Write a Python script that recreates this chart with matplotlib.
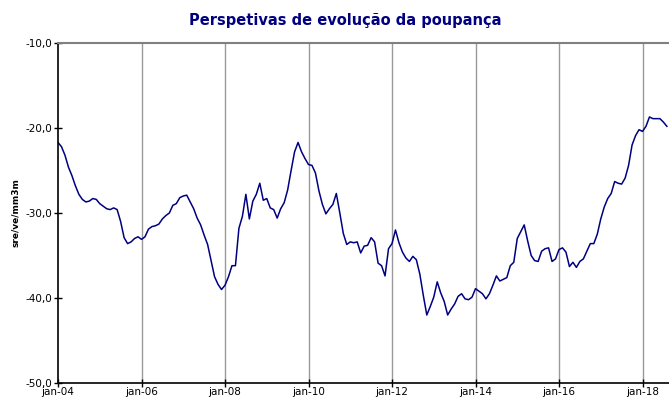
import numpy as np
import matplotlib
matplotlib.use("Agg")
import matplotlib.pyplot as plt

# monthly values, jan-04 .. aug-18
poupanca = [
    -21.7, -22.2, -23.2, -24.6, -25.6, -26.8, -27.8, -28.4, -28.7, -28.6, -28.3, -28.4,
    -28.9, -29.2, -29.5, -29.6, -29.4, -29.6, -31.0, -32.9, -33.6, -33.4, -33.0, -32.8,
    -33.1, -32.8, -31.9, -31.6, -31.5, -31.3, -30.7, -30.3, -30.0, -29.1, -28.9, -28.2,
    -28.0, -27.9, -28.7, -29.5, -30.6, -31.4, -32.6, -33.7, -35.6, -37.5, -38.4, -39.0,
    -38.5, -37.5, -36.2, -36.2, -31.8, -30.4, -27.8, -30.7, -28.6, -27.8, -26.5, -28.5,
    -28.3, -29.4, -29.6, -30.6, -29.5, -28.8, -27.3, -25.0, -22.8, -21.7, -22.8, -23.6,
    -24.3, -24.4, -25.3, -27.4, -29.0, -30.1, -29.5, -29.0, -27.7, -30.0, -32.4, -33.7,
    -33.4, -33.5, -33.4, -34.7, -33.9, -33.8, -32.9, -33.4, -35.9, -36.2, -37.4, -34.2,
    -33.6, -32.0, -33.5, -34.6, -35.3, -35.7, -35.1, -35.5, -37.2, -39.7, -42.0, -41.0,
    -39.9, -38.1, -39.4, -40.4, -42.0, -41.3, -40.7, -39.8, -39.5, -40.1, -40.2, -39.9,
    -38.9, -39.2, -39.5, -40.1, -39.5, -38.5, -37.4, -38.0, -37.8, -37.6, -36.2, -35.8,
    -33.0, -32.2, -31.4, -33.3, -35.0, -35.6, -35.7, -34.5, -34.2, -34.1, -35.7, -35.4,
    -34.3, -34.1, -34.6, -36.3, -35.8, -36.4, -35.7, -35.4, -34.5, -33.6, -33.6, -32.5,
    -30.7, -29.3, -28.3, -27.7, -26.3, -26.5, -26.6, -25.9, -24.4, -22.0, -20.9, -20.2,
    -20.4, -19.8, -18.7, -18.9, -18.9, -18.9, -19.3, -19.8,
]
tick_labels = ["jan-04", "jan-06", "jan-08", "jan-10", "jan-12", "jan-14", "jan-16", "jan-18"]
y_ticks = [-50, -40, -30, -20, -10]

navy = "#000080"
months = np.arange(len(poupanca))
tick_pos = np.arange(len(tick_labels)) * 24

fig = plt.figure(figsize=(6.69, 4.03), dpi=100)
ax = fig.add_axes([58 / 669, 20 / 403, 1 - 58 / 669 + 0.002, 340 / 403])

ax.plot(months, poupanca, color=navy, lw=1.1)

ax.set_xlim(0, 176)
ax.set_ylim(-50, -10)
ax.set_xticks(tick_pos)
ax.set_xticklabels(tick_labels, fontsize=7.5)
ax.set_yticks(y_ticks)
ax.set_yticklabels([f"{v:.1f}".replace(".", ",") for v in y_ticks], fontsize=7.5)
ax.tick_params(direction="inout", length=6, width=1, colors="black")
ax.tick_params(axis="x", pad=0)
ax.tick_params(axis="y", pad=1)

for p in tick_pos[1:]:
    ax.axvline(p, color="#999999", lw=1, zorder=0)

ax.spines["right"].set_visible(False)
ax.spines["top"].set_color("#808080")
ax.spines["top"].set_linewidth(1.5)
ax.spines["left"].set_linewidth(1.2)
ax.spines["bottom"].set_linewidth(1.2)

ax.set_ylabel("sre/ve/mm3m", fontsize=6.5, fontweight="bold", labelpad=4)
fig.text(345 / 669, 1 - 21 / 403, "Perspetivas de evolução da poupança",
         ha="center", va="center", fontsize=10.5, fontweight="bold", color=navy)

fig.savefig("out.png", dpi=100)
